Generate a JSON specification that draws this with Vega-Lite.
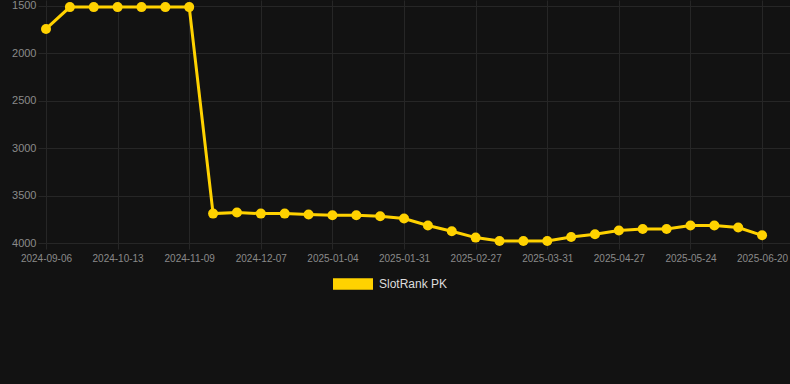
{
  "$schema": "https://vega.github.io/schema/vega-lite/v6.json",
  "autosize": "none",
  "width": 744,
  "height": 243,
  "padding": {"left": 46, "top": 0, "right": 0, "bottom": 141},
  "background": "#121212",
  "config": {
    "view": {"stroke": null},
    "font": "Liberation Sans",
    "axis": {"domain": false, "gridColor": "#262626", "tickColor": "#262626", "labelColor": "#8a8a8a", "labelFont": "Liberation Sans", "title": null}
  },
  "data": {
    "values": [
      {"date": "2024-09-06", "rank": 1742, "series": "SlotRank PK"},
      {"date": "2024-09-18", "rank": 1512, "series": "SlotRank PK"},
      {"date": "2024-10-01", "rank": 1512, "series": "SlotRank PK"},
      {"date": "2024-10-13", "rank": 1512, "series": "SlotRank PK"},
      {"date": "2024-10-22", "rank": 1512, "series": "SlotRank PK"},
      {"date": "2024-10-31", "rank": 1512, "series": "SlotRank PK"},
      {"date": "2024-11-09", "rank": 1512, "series": "SlotRank PK"},
      {"date": "2024-11-18", "rank": 3690, "series": "SlotRank PK"},
      {"date": "2024-11-27", "rank": 3679, "series": "SlotRank PK"},
      {"date": "2024-12-07", "rank": 3690, "series": "SlotRank PK"},
      {"date": "2024-12-16", "rank": 3690, "series": "SlotRank PK"},
      {"date": "2024-12-25", "rank": 3700, "series": "SlotRank PK"},
      {"date": "2025-01-04", "rank": 3707, "series": "SlotRank PK"},
      {"date": "2025-01-13", "rank": 3707, "series": "SlotRank PK"},
      {"date": "2025-01-22", "rank": 3718, "series": "SlotRank PK"},
      {"date": "2025-01-31", "rank": 3742, "series": "SlotRank PK"},
      {"date": "2025-02-09", "rank": 3816, "series": "SlotRank PK"},
      {"date": "2025-02-18", "rank": 3876, "series": "SlotRank PK"},
      {"date": "2025-02-27", "rank": 3943, "series": "SlotRank PK"},
      {"date": "2025-03-09", "rank": 3979, "series": "SlotRank PK"},
      {"date": "2025-03-20", "rank": 3979, "series": "SlotRank PK"},
      {"date": "2025-03-31", "rank": 3979, "series": "SlotRank PK"},
      {"date": "2025-04-09", "rank": 3937, "series": "SlotRank PK"},
      {"date": "2025-04-18", "rank": 3908, "series": "SlotRank PK"},
      {"date": "2025-04-27", "rank": 3869, "series": "SlotRank PK"},
      {"date": "2025-05-06", "rank": 3852, "series": "SlotRank PK"},
      {"date": "2025-05-15", "rank": 3852, "series": "SlotRank PK"},
      {"date": "2025-05-24", "rank": 3816, "series": "SlotRank PK"},
      {"date": "2025-06-02", "rank": 3816, "series": "SlotRank PK"},
      {"date": "2025-06-11", "rank": 3837, "series": "SlotRank PK"},
      {"date": "2025-06-20", "rank": 3919, "series": "SlotRank PK"}
    ]
  },
  "encoding": {
    "x": {
      "field": "date",
      "type": "ordinal",
      "scale": {"type": "point", "padding": 0.585, "align": 0},
      "axis": {
        "values": ["2024-09-06", "2024-10-13", "2024-11-09", "2024-12-07", "2025-01-04", "2025-01-31", "2025-02-27", "2025-03-31", "2025-04-27", "2025-05-24", "2025-06-20"],
        "labelAngle": 0,
        "labelFontSize": 10,
        "tickSize": 6,
        "labelPadding": 4,
        "grid": true
      }
    },
    "y": {
      "field": "rank",
      "type": "quantitative",
      "scale": {"domain": [1437, 4000], "reverse": true, "nice": false, "zero": false},
      "axis": {
        "values": [1500, 2000, 2500, 3000, 3500, 4000],
        "format": "d",
        "labelFontSize": 11,
        "tickSize": 8,
        "labelPadding": 2,
        "grid": true
      }
    },
    "color": {
      "field": "series",
      "type": "nominal",
      "scale": {"range": ["#FFD200"]},
      "legend": {
        "title": null,
        "orient": "none",
        "legendX": 287,
        "legendY": 264,
        "padding": 0,
        "symbolType": "M-1,-0.285H1V0.285H-1Z",
        "symbolSize": 1600,
        "symbolFillColor": "#FFD200",
        "symbolStrokeWidth": 0,
        "symbolOpacity": 1,
        "labelFontSize": 12,
        "labelColor": "#dddddd",
        "labelOffset": 6,
        "labelFont": "Liberation Sans"
      }
    }
  },
  "layer": [
    {"mark": {"type": "line", "strokeWidth": 3}},
    {"mark": {"type": "point", "filled": true, "size": 100, "opacity": 1}}
  ]
}
